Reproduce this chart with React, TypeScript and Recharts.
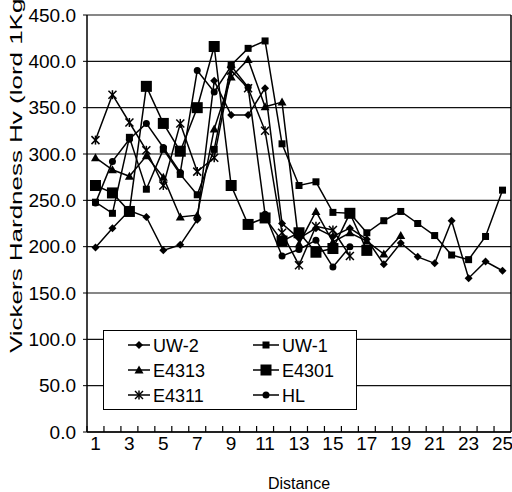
import { LineChart, Line, XAxis, YAxis, CartesianGrid, Legend, Label } from "recharts";

const distance = [1, 2, 3, 4, 5, 6, 7, 8, 9, 10, 11, 12, 13, 14, 15, 16, 17, 18, 19, 20, 21, 22, 23, 24, 25];
const yTicks = [0, 50, 100, 150, 200, 250, 300, 350, 400, 450];

const uw2 = [199, 220, 239, 232, 196, 202, 229, 379, 342, 342, 371, 225, 209, 220, 211, 220, 208, 181, 204, 189, 182, 228, 166, 184, 174];
const uw1 = [248, 236, 318, 262, 305, 278, 256, 305, 396, 414, 422, 311, 266, 270, 237, 236, 215, 228, 238, 225, 212, 191, 186, 211, 261];
const e4313 = [296, 283, 276, 298, 275, 232, 234, 327, 383, 402, 351, 356, 203, 238, 205, 215, 206, 192, 212];
const e4301 = [266, 258, 238, 373, 333, 303, 350, 416, 266, 224, 231, 206, 215, 194, 198, 236, 196];
const e4311 = [315, 364, 334, 304, 266, 333, 281, 296, 390, 371, 325, 215, 180, 222, 218, 190];
const hl = [247, 292, 316, 333, 307, 280, 390, 367, 395, 372, 235, 190, 197, 207, 178, 200];

const series = [
  { key: "uw2", name: "UW-2", values: uw2, marker: "diamond" },
  { key: "uw1", name: "UW-1", values: uw1, marker: "square" },
  { key: "e4313", name: "E4313", values: e4313, marker: "triangle" },
  { key: "e4301", name: "E4301", values: e4301, marker: "bigsquare" },
  { key: "e4311", name: "E4311", values: e4311, marker: "star" },
  { key: "hl", name: "HL", values: hl, marker: "circle" },
];

const data = distance.map((d, i) => {
  const row: any = { d };
  series.forEach((s) => {
    row[s.key] = s.values[i] ?? null;
  });
  return row;
});

const FONT = "'Liberation Sans', Arial, sans-serif";

function Marker({ kind, cx, cy }: { kind: string; cx: number; cy: number }) {
  switch (kind) {
    case "diamond":
      return <polygon points={`${cx},${cy - 4} ${cx + 4},${cy} ${cx},${cy + 4} ${cx - 4},${cy}`} fill="#000" />;
    case "square":
      return <rect x={cx - 3.5} y={cy - 3.5} width={7} height={7} fill="#000" />;
    case "bigsquare":
      return <rect x={cx - 5.5} y={cy - 5.5} width={11} height={11} fill="#000" />;
    case "triangle":
      return <polygon points={`${cx},${cy - 4.5} ${cx + 4.5},${cy + 3.5} ${cx - 4.5},${cy + 3.5}`} fill="#000" />;
    case "star":
      return (
        <g stroke="#000" strokeWidth={1.5}>
          <line x1={cx - 4} y1={cy - 4} x2={cx + 4} y2={cy + 4} />
          <line x1={cx - 4} y1={cy + 4} x2={cx + 4} y2={cy - 4} />
          <line x1={cx} y1={cy - 4.5} x2={cx} y2={cy + 4.5} />
        </g>
      );
    default:
      return <circle cx={cx} cy={cy} r={3.5} fill="#000" />;
  }
}

function XTick(props: any) {
  const { x, y, payload } = props;
  const half = payload.offset ? payload.offset : 8.48;
  return (
    <g>
      <line x1={x - half} x2={x - half} y1={y} y2={y - 6} stroke="#000" strokeWidth={1.2} />
      {payload.index % 2 === 0 && (
        <text x={x} y={y + 18} textAnchor="middle" fontSize={19} fontFamily={FONT} fill="#000">
          {payload.value}
        </text>
      )}
    </g>
  );
}

function YTitle() {
  return (
    <text
      transform="translate(22, 353) rotate(-90)"
      fontSize={16}
      fontFamily={FONT}
      fill="#000"
      textLength={363}
      lengthAdjust="spacingAndGlyphs"
    >
      Vickers Hardness Hv (lord 1Kg)
    </text>
  );
}

function LegendBox() {
  return (
    <div style={{ width: 254, height: 80, border: "1.5px solid #000", background: "#fff", boxSizing: "border-box" }}>
      <svg width={251} height={77} style={{ display: "block" }}>
        {series.map((s, i) => {
          const col = i % 2;
          const row = Math.floor(i / 2);
          const x0 = col === 0 ? 24 : 149;
          const x1 = col === 0 ? 46 : 175;
          const mx = (x0 + x1) / 2;
          const cy = 14 + row * 25;
          return (
            <g key={s.key}>
              <line x1={x0} x2={x1} y1={cy} y2={cy} stroke="#000" strokeWidth={1.5} />
              <Marker kind={s.marker} cx={mx} cy={cy} />
              <text x={x1 + 3} y={cy + 6.5} fontSize={18} fontFamily={FONT} fill="#000">
                {s.name}
              </text>
            </g>
          );
        })}
      </svg>
    </div>
  );
}

export default function App() {
  return (
    <div style={{ position: "absolute", top: 0, left: 0, width: 512, height: 492, background: "#fff" }}>
      <LineChart width={512} height={492} data={data} margin={{ top: 15, right: 0, left: 0, bottom: 0 }}>
        <CartesianGrid vertical={false} stroke="#111" strokeWidth={1.2} />
        <XAxis
          dataKey="d"
          scale="band"
          interval={0}
          height={60}
          tickSize={0}
          tickMargin={0}
          tick={<XTick />}
          axisLine={{ stroke: "#000", strokeWidth: 1.5 }}
        >
          <Label value="Distance" position="insideBottom" offset={3} fontSize={16} fontFamily={FONT} fill="#000" />
        </XAxis>
        <YAxis
          domain={[0, 450]}
          ticks={yTicks}
          width={87}
          tickSize={4}
          tickMargin={7}
          tickFormatter={(v) => v.toFixed(1)}
          tick={{ fontSize: 19, fontFamily: FONT, fill: "#000" }}
          tickLine={{ stroke: "#000" }}
          axisLine={{ stroke: "#000", strokeWidth: 1.5 }}
        >
          <Label content={<YTitle />} />
        </YAxis>
        <YAxis
          yAxisId="r"
          orientation="right"
          domain={[0, 450]}
          width={1}
          tick={false}
          tickLine={false}
          axisLine={{ stroke: "#000", strokeWidth: 1.5 }}
        />
        <Legend
          layout="vertical"
          align="center"
          verticalAlign="middle"
          content={<LegendBox />}
          wrapperStyle={{ left: 103, top: 330, width: 254, height: 80 }}
        />
        {series.map((s) => (
          <Line
            key={s.key}
            dataKey={s.key}
            name={s.name}
            stroke="#000"
            strokeWidth={1.5}
            isAnimationActive={false}
            activeDot={false}
            dot={(p: any) =>
              p.cy == null || p.value == null ? (
                <g key={`${s.key}-${p.index}`} />
              ) : (
                <g key={`${s.key}-${p.index}`}>
                  <Marker kind={s.marker} cx={p.cx} cy={p.cy} />
                </g>
              )
            }
          />
        ))}
      </LineChart>
    </div>
  );
}
